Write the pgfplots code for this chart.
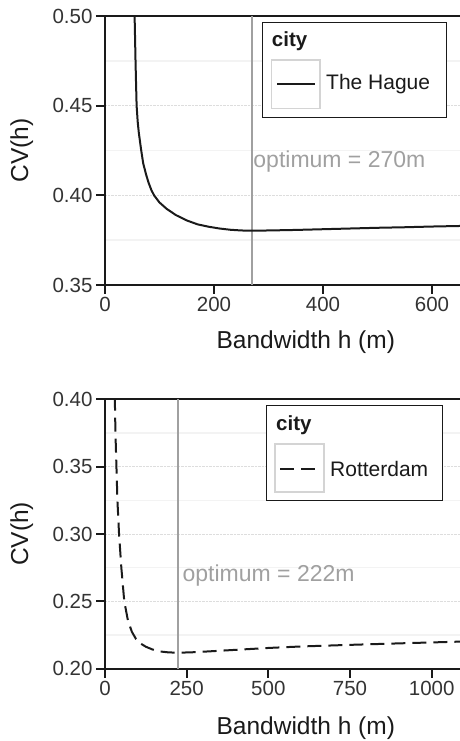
\documentclass[border=0pt]{standalone}
\usepackage{pgfplots}
\pgfplotsset{compat=1.18}
\usepackage{fontspec}
\setmainfont{Liberation Sans}
\definecolor{ink}{HTML}{1A1A1A}
\definecolor{tick}{HTML}{333333}
\definecolor{optgray}{HTML}{A0A0A0}
\definecolor{gridmaj}{HTML}{DDDDDD}
\definecolor{gridmin}{HTML}{F3F3F3}
\definecolor{keybox}{HTML}{D4D4D4}
\pgfplotsset{
  panel/.style={
    scale only axis,
    width=402pt,
    xmin=0,
    axis line style={ink, line width=2pt},
    tick style={ink, line width=2pt},
    tick align=outside,
    major tick length=9pt,
    minor tick length=0pt,
    xtick pos=bottom, ytick pos=left,
    ymajorgrids, yminorgrids,
    minor y tick num=1,
    major grid style={gridmaj, densely dotted, line width=0.9pt},
    minor grid style={gridmin, line width=1.5pt},
    /pgf/number format/assume math mode=true,
    /pgf/number format/1000 sep={},
    ticklabel style={font=\fontsize{20.5}{24}\selectfont, text=tick},
    yticklabel style={/pgf/number format/fixed, /pgf/number format/fixed zerofill, /pgf/number format/precision=2},
    label style={font=\fontsize{24.5}{28}\selectfont, text=ink},
    ylabel={CV(h)},
    xlabel={Bandwidth h (m)},
    clip=true,
  }
}
\begin{document}
\begin{tikzpicture}
\useasboundingbox (0,0) rectangle (459pt,741pt);
% ---------- top panel: The Hague ----------
\begin{axis}[panel,
  at={(105pt,456pt)}, anchor=south west,
  height=269pt,
  xmax=737.6, ymin=0.35, ymax=0.50,
  xtick={0,200,400,600},
  ytick={0.35,0.40,0.45,0.50},
  ylabel style={at={(axis description cs:-0.2073,0.5)}, anchor=center},
  xlabel style={at={(axis description cs:0.4995,-0.2108)}, anchor=center},
]
\addplot[optgray, line width=2pt] coordinates {(270,0.35) (270,0.50)};
\addplot[ink, line width=2pt] coordinates {
(54,0.505) (55,0.490) (56,0.475) (57,0.462) (58,0.450) (60,0.441) (62,0.435) (66,0.426) (70,0.418)
(75,0.412) (80,0.407) (85,0.403) (90,0.400) (100,0.396) (113,0.3925)
(130,0.389) (150,0.386) (170,0.3838) (190,0.3825) (210,0.3815)
(230,0.3808) (250,0.3804) (270,0.3803) (300,0.3804) (350,0.3807)
(400,0.3811) (450,0.3815) (500,0.3819) (550,0.3822) (600,0.3826) (650,0.3829) (700,0.3832)
};
\node[anchor=west, inner sep=0pt, text=optgray, font=\fontsize{23}{27}\selectfont] at (axis cs:272,0.419) {optimum = 270m};
\end{axis}
% legend top
\draw[ink, line width=1pt, fill=white] (262.7pt,718.3pt) rectangle (446pt,623.7pt);
\node[anchor=west, inner sep=0pt, font=\fontsize{20.5}{24}\selectfont\bfseries, text=ink] at (271.7pt,699.7pt) {city};
\draw[keybox, line width=1.5pt] (271.7pt,681pt) rectangle (320pt,632.7pt);
\draw[ink, line width=2pt] (277pt,656.5pt) -- (315pt,656.5pt);
\node[anchor=west, inner sep=0pt, font=\fontsize{21}{25}\selectfont, text=ink] at (326pt,656.5pt) {The Hague};
% ---------- bottom panel: Rotterdam ----------
\begin{axis}[panel,
  at={(105pt,72.3pt)}, anchor=south west,
  height=269.4pt,
  xmax=1230.5, ymin=0.20, ymax=0.40,
  xtick={0,250,500,750,1000},
  ytick={0.20,0.25,0.30,0.35,0.40},
  ylabel style={at={(axis description cs:-0.2073,0.5)}, anchor=center},
  xlabel style={at={(axis description cs:0.4995,-0.2212)}, anchor=center},
]
\addplot[optgray, line width=2pt] coordinates {(222,0.20) (222,0.40)};
\addplot[ink, line width=2pt, dash pattern=on 14pt off 7pt] coordinates {
(30,0.402) (32,0.375) (35,0.350) (38,0.325) (43,0.300) (50,0.275) (59,0.250)
(70,0.236) (82,0.2275) (95,0.222) (107,0.219) (125,0.2163) (145,0.2143)
(168,0.2128) (195,0.2121) (222,0.2119) (260,0.2121) (300,0.2126)
(400,0.2140) (500,0.2154) (600,0.2165) (750,0.2177) (900,0.2188)
(1000,0.2195) (1100,0.2202) (1150,0.2205)
};
\node[anchor=west, inner sep=0pt, text=optgray, font=\fontsize{23}{27}\selectfont] at (axis cs:237,0.2688) {optimum = 222m};
\end{axis}
% legend bottom
\draw[ink, line width=1pt, fill=white] (266.7pt,335pt) rectangle (442pt,240pt);
\node[anchor=west, inner sep=0pt, font=\fontsize{20.5}{24}\selectfont\bfseries, text=ink] at (276pt,316pt) {city};
\draw[keybox, line width=1.5pt] (275pt,297pt) rectangle (324pt,249pt);
\draw[ink, line width=2pt, dash pattern=on 14pt off 7pt] (280pt,272pt) -- (319pt,272pt);
\node[anchor=west, inner sep=0pt, font=\fontsize{21}{25}\selectfont, text=ink] at (330pt,272pt) {Rotterdam};
\end{tikzpicture}
\end{document}
